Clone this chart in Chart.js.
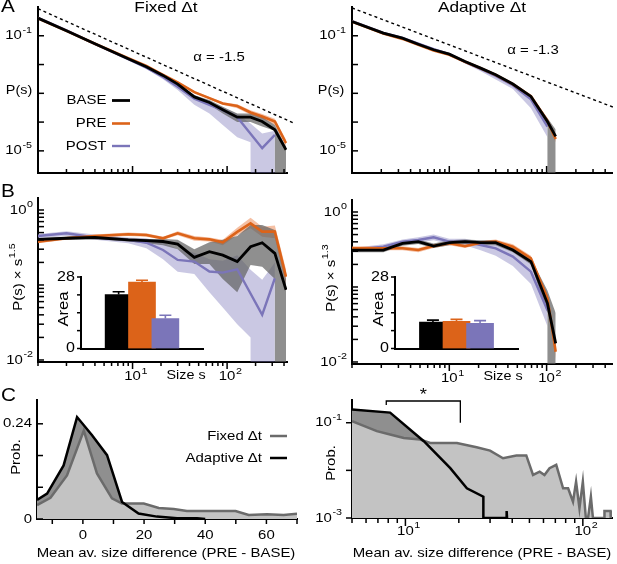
<!DOCTYPE html>
<html>
<head>
<meta charset="utf-8">
<title>Avalanche size distributions, fixed vs adaptive time bins</title>
<script src="https://cdn.jsdelivr.net/npm/chart.js@4.4.1/dist/chart.umd.min.js"></script>
<style>
  body { margin: 0; background: #fff; }
  #fig { position: relative; width: 617px; height: 564px; }
  #fig canvas { position: absolute; left: 0; top: 0; }
</style>
</head>
<body>
<div id="fig">
  <canvas id="aFixed" width="617" height="564"></canvas>
  <canvas id="aAdapt" width="617" height="564"></canvas>
  <canvas id="bFixed" width="617" height="564"></canvas>
  <canvas id="bAdapt" width="617" height="564"></canvas>
  <canvas id="insetFixed" width="617" height="564"></canvas>
  <canvas id="insetAdapt" width="617" height="564"></canvas>
  <canvas id="cFixed" width="617" height="564"></canvas>
  <canvas id="cAdapt" width="617" height="564"></canvas>
</div>
<script>
// ---- data ----

// avalanche size bins
const sizesFixed = [1, 2, 4, 9, 14, 21, 30, 45, 65, 90, 128, 177, 235, 320, 420];
const sizesAdapt = [1, 2.1, 3.3, 4.8, 6.9, 10, 14.5, 21, 30, 45, 69, 102, 124];

// A, fixed dt: P(s) with shaded spread
// 0 = at the axis floor, [v, 0] = reaches v then falls straight to the floor
const pBaseFixed   = [0.41, 0.15, 0.053, 0.0158, 0.0084, 0.0042, 0.0021, 0.00075, 0.00048, 0.00027, 0.000148, 0.000148, 0.000105, 0.000054, 0.0000108];
const pBaseFixedLo = [0.39, 0.14, 0.05, 0.015, 0.008, 0.0039, 0.0019, 0.00066, 0.0004, 0.0002, 0.0001, 0.0001, 0.00007, [0.00005, 0], 0];
const pBaseFixedHi = [0.43, 0.16, 0.056, 0.0166, 0.0089, 0.0045, 0.0023, 0.00085, 0.00058, 0.00034, 0.0002, 0.0002, 0.00015, 0.00008, 0.000014];
const pPreFixed    = [0.40, 0.148, 0.053, 0.0165, 0.009, 0.0044, 0.0024, 0.0011, 0.00068, 0.00044, 0.00036, 0.000215, 0.000156, 0.000105, 0.0000186];
const pPreFixedLo  = [0.38, 0.14, 0.05, 0.0156, 0.0085, 0.0041, 0.0022, 0.001, 0.00062, 0.0004, 0.0003, 0.00018, 0.00013, 0.00008, 0.000015];
const pPreFixedHi  = [0.42, 0.156, 0.056, 0.0175, 0.0095, 0.0047, 0.0026, 0.0012, 0.00075, 0.00049, 0.00042, 0.00026, 0.00019, 0.00013, 0.000024];
const pPostFixed   = [0.42, 0.155, 0.052, 0.0155, 0.0078, 0.0037, 0.0017, 0.00065, 0.0004, 0.00026, 0.000148, null, 0.0000124, 0.000036, null];
const pPostFixedLo = [0.4, 0.147, 0.049, 0.0145, 0.007, 0.0031, 0.0013, 0.0004, 0.0002, 0.00008, 0.00003, [0.00002, 0], 0, 0, null];
const pPostFixedHi = [0.44, 0.163, 0.055, 0.0165, 0.0086, 0.0043, 0.002, 0.0009, 0.0005, 0.00033, 0.00019, 0.00009, 0.00004, 0.00005, null];

// A, adaptive dt
const pBaseAdapt   = [0.314, 0.124, 0.083, 0.051, 0.0326, 0.023, 0.0128, 0.0075, 0.0044, 0.0021, 0.00078, 0.000105, 0.000032];
const pBaseAdaptLo = [0.295, 0.116, 0.078, 0.048, 0.0305, 0.0215, 0.012, 0.007, 0.0041, 0.00195, 0.00072, [0.00008, 0], 0];
const pBaseAdaptHi = [0.335, 0.133, 0.089, 0.055, 0.035, 0.0246, 0.0137, 0.008, 0.0047, 0.00225, 0.00084, 0.00014, 0.000055];
const pPreAdapt    = [0.31, 0.12, 0.078, 0.049, 0.031, 0.022, 0.0125, 0.0074, 0.0044, 0.0021, 0.0008, 0.00011, 0.000026];
const pPreAdaptLo  = [0.295, 0.114, 0.074, 0.0465, 0.0295, 0.021, 0.0119, 0.007, 0.0042, 0.002, 0.00075, 0.00009, 0.00002];
const pPreAdaptHi  = [0.325, 0.126, 0.082, 0.0515, 0.0325, 0.023, 0.0131, 0.0078, 0.0046, 0.0022, 0.00085, 0.00013, 0.00003];
const pPostAdapt   = [0.32, 0.126, 0.084, 0.053, 0.034, 0.023, 0.0124, 0.0071, 0.004, 0.0019, 0.00062, 0.00007, null];
const pPostAdaptLo = [0.3, 0.118, 0.078, 0.049, 0.031, 0.021, 0.0108, 0.0058, 0.003, 0.0014, 0.0003, 0.00003, null];
const pPostAdaptHi = [0.34, 0.134, 0.09, 0.057, 0.037, 0.025, 0.0135, 0.008, 0.0046, 0.0022, 0.00085, 0.00012, null];

// dotted power-law guides (end points)
const guideFixedS = [1, 528];
const guideFixedP = [0.87, 0.000087];
const guideAdaptS = [1, 509];
const guideAdaptP = [0.93, 0.00031];

// B, fixed dt: P(s) x s^1.5
const cBaseFixed   = [0.406, 0.42, 0.43, 0.40, 0.39, 0.38, 0.35, 0.234, 0.278, 0.25, 0.205, 0.324, 0.366, 0.264, 0.086];
const cBaseFixedLo = [0.39, 0.40, 0.41, 0.38, 0.36, 0.34, 0.30, 0.19, 0.19, 0.12, 0.08, 0.185, 0.175, [0.12, 0], 0];
const cBaseFixedHi = [0.42, 0.44, 0.45, 0.42, 0.41, 0.41, 0.40, 0.30, 0.37, 0.40, 0.45, 0.63, 0.63, 0.54, 0.12];
const cPreFixed    = [0.378, 0.42, 0.45, 0.474, 0.464, 0.419, 0.489, 0.42, 0.406, 0.37, 0.51, 0.664, 0.514, 0.514, 0.129];
const cPreFixedLo  = [0.36, 0.40, 0.43, 0.45, 0.44, 0.40, 0.46, 0.39, 0.38, 0.34, 0.46, 0.57, 0.44, 0.42, 0.10];
const cPreFixedHi  = [0.39, 0.44, 0.47, 0.50, 0.49, 0.44, 0.52, 0.45, 0.43, 0.40, 0.58, 0.79, 0.60, 0.62, 0.16];
const cPostFixed   = [0.45, 0.489, 0.43, 0.40, 0.366, 0.293, 0.216, 0.205, 0.151, 0.146, 0.162, null, 0.04, 0.123, null];
const cPostFixedLo = [0.42, 0.45, 0.40, 0.36, 0.31, 0.22, 0.15, 0.14, 0.08, 0.05, 0.03, [0.02, 0], 0, 0, null];
const cPostFixedHi = [0.48, 0.52, 0.47, 0.43, 0.42, 0.37, 0.30, 0.27, 0.22, 0.21, 0.25, 0.16, 0.117, 0.2, null];

// B, adaptive dt: P(s) x s^1.3
const cBaseAdapt   = [0.311, 0.311, 0.382, 0.402, 0.352, 0.39, 0.402, 0.39, 0.39, 0.311, 0.218, 0.0605, 0.0177];
const cBaseAdaptLo = [0.29, 0.29, 0.355, 0.375, 0.33, 0.36, 0.375, 0.36, 0.36, 0.29, 0.2, [0.045, 0], 0];
const cBaseAdaptHi = [0.33, 0.33, 0.41, 0.43, 0.38, 0.42, 0.43, 0.42, 0.42, 0.34, 0.24, 0.09, 0.045];
const cPreAdapt    = [0.328, 0.328, 0.328, 0.311, 0.352, 0.382, 0.35, 0.39, 0.402, 0.345, 0.241, 0.0707, 0.0137];
const cPreAdaptLo  = [0.31, 0.31, 0.31, 0.29, 0.33, 0.36, 0.33, 0.37, 0.38, 0.32, 0.225, 0.062, 0.011];
const cPreAdaptHi  = [0.35, 0.35, 0.35, 0.33, 0.375, 0.405, 0.37, 0.41, 0.43, 0.37, 0.26, 0.08, 0.017];
const cPostAdapt   = [0.311, 0.345, 0.402, 0.424, 0.46, 0.402, 0.402, 0.363, 0.328, 0.254, 0.16, 0.049, null];
const cPostAdaptLo = [0.29, 0.32, 0.37, 0.39, 0.42, 0.37, 0.36, 0.31, 0.26, 0.19, 0.11, [0.03, 0], null];
const cPostAdaptHi = [0.33, 0.37, 0.43, 0.46, 0.5, 0.44, 0.44, 0.4, 0.37, 0.3, 0.21, 0.065, null];

// insets: area under the compensated curve
const conditions = ['BASE', 'PRE', 'POST'];
const areaFixed = [21.1, 26.0, 11.7];
const areaFixedErr = [1.1, 0.7, 1.3];
const areaAdapt = [10.3, 10.6, 9.9];
const areaAdaptErr = [0.8, 0.8, 1.0];

// C, left: distribution of mean size difference (PRE - BASE), linear
const diffFixedL = [-15, -10.6, -5.2, 0.3, 4.6, 9.5, 12.8, 19.9, 24.8, 29.7, 34, 43.9, 49.9, 54.2, 60.2, 65.6, 70];
const probFixedL = [0.035, 0.0535, 0.11, 0.223, 0.115, 0.052, 0.039, 0.039, 0.028, 0.025, 0.02, 0.02, 0.02, 0.01, 0.012, 0.01, 0.013];
const diffAdaptL = [-15, -11.7, -6.3, -1.9, 3, 7.9, 12.8, 18.2, 24.2, 30.8, 37.3, 40];
const probAdaptL = [0.048, 0.064, 0.135, 0.257, 0.211, 0.161, 0.043, 0.014, 0.006, 0.002, 0.002, 0];

// C, right: same on log-log axes (0 = falls to the floor)
const diffFixedR = [5, 6.9, 8.2, 9.8, 12.1, 13.8, 19.5, 25.2, 30, 35.5, 42.2, 48, 52.4, 57.1, 60.8, 64.9, 70.8, 77.4, 82.6, 88, 91.6, 95.7, 100, 104, 107, 111, 114, 132, 132.4, 143.3, 143.6];
const probFixedR = [0.108, 0.0666, 0.0566, 0.048, 0.0443, 0.0377, 0.0377, 0.0305, 0.026, 0.018, 0.0206, 0.0206, 0.008, 0.0094, 0.008, 0.0111, 0.0131, 0.0042, 0.0042, 0.0022, 0.0058, 0.0016, 0.0058, 0, 0, 0.0028, 0, 0, 0.0014, 0.0014, 0];
const diffAdaptR = [5, 8.2, 12.7, 17.9, 22.2, 27.5, 27.5, 37, 37.2, 37.4];
const probAdaptR = [0.19, 0.163, 0.041, 0.0111, 0.0042, 0.0028, 0, 0, 0.0014, 0];
const starBracket = [7.8, 20.4];

// ---- styling ----
const W = 617, H = 564;
const FONT = '"Liberation Sans", Arial, Helvetica, sans-serif';
const STRETCH = 1.15;   // lettering in the figure is wide
const BLACK = '#000000', ORANGE = '#dc6319', PURPLE = '#7b75b9';
const GRAY_BAND = 'rgba(95,95,95,0.7)';
const ORANGE_BAND = 'rgba(236,140,90,0.55)';
const PURPLE_BAND = 'rgba(123,117,185,0.4)';
const C_LIGHT = '#c3c3c3', C_DARK = '#8f8f8f', C_LINE = '#6b6b6b';

function pts(xs, ys, floor) {
  const out = [];
  xs.forEach((x, i) => {
    const v = ys[i];
    if (Array.isArray(v)) {
      out.push({ x, y: v[0] });
      out.push({ x, y: floor });
    } else {
      out.push({ x, y: v === 0 ? floor : v });
    }
  });
  return out;
}

function line(xs, ys, floor, color, width, order) {
  return { data: pts(xs, ys, floor), borderColor: color, borderWidth: width, fill: false, spanGaps: true, order };
}

function band(xs, lo, hi, floor, color, order) {
  return [
    { data: pts(xs, hi, floor), borderColor: 'transparent', backgroundColor: color, fill: '+1', order },
    { data: pts(xs, lo, floor), borderColor: 'transparent', fill: false, order }
  ];
}

function distSets(xs, floor, s, guide) {
  const sets = [
    ...band(xs, s.postLo, s.postHi, floor, PURPLE_BAND, 9),
    ...band(xs, s.preLo, s.preHi, floor, ORANGE_BAND, 8),
    ...band(xs, s.baseLo, s.baseHi, floor, GRAY_BAND, 7),
    line(xs, s.post, floor, PURPLE, 2.4, 3),
    line(xs, s.pre, floor, ORANGE, 2.6, 2),
    line(xs, s.base, floor, BLACK, 2.8, 1)
  ];
  if (guide) {
    sets.push({ data: pts(guide[0], guide[1]), borderColor: BLACK, borderWidth: 1.4,
      borderDash: [3, 3], fill: false, clip: false, order: 0 });
  }
  return sets;
}

function axis(type, min, max, side) {
  return {
    type, min, max, bounds: 'data', position: side, z: 1,
    ticks: { display: false },
    grid: { display: false, drawTicks: false },
    border: { display: true, color: '#000', width: 2 },
    afterFit(s) { if (side === 'left') s.width = 0; else s.height = 0; }
  };
}

function logTicks(a, b) {
  const t = [];
  for (let d = a; d < b; d++) for (let k = 1; k < 10; k++) t.push(k * Math.pow(10, d));
  t.push(Math.pow(10, b));
  return t;
}

function text(ctx, str, x, y, o) {
  o = o || {};
  const size = o.size || 13;
  ctx.save();
  ctx.translate(x, y);
  if (o.rot) ctx.rotate(o.rot);
  ctx.scale(STRETCH, 1);
  ctx.fillStyle = '#000';
  ctx.textBaseline = 'middle';
  ctx.textAlign = 'left';
  ctx.font = size + 'px ' + FONT;
  const w = ctx.measureText(str).width;
  const ss = size * 0.72;
  let sw = 0;
  if (o.sup) {
    ctx.font = ss + 'px ' + FONT;
    sw = ctx.measureText(o.sup).width + 0.5;
    ctx.font = size + 'px ' + FONT;
  }
  const tot = w + sw;
  let x0 = -tot / 2;
  if (o.align === 'right') x0 = -tot;
  if (o.align === 'left') x0 = 0;
  if (o.align === 'base') x0 = -w / 2;
  ctx.fillText(str, x0, 0);
  if (o.sup) {
    ctx.font = ss + 'px ' + FONT;
    ctx.fillText(o.sup, x0 + w + 0.5, -size * 0.42);
  }
  ctx.restore();
}

// ticks, tick labels, titles, legends
function decoration(spec) {
  return {
    id: 'decoration',
    afterDraw(chart) {
      const ctx = chart.ctx, a = chart.chartArea;
      ctx.save();
      (spec.axes || []).forEach(ax => {
        const sc = chart.scales[ax.id];
        const vert = ax.id === 'y';
        ctx.strokeStyle = '#000';
        ctx.lineWidth = 1.5;
        (ax.ticks || []).forEach(v => {
          const p = sc.getPixelForValue(v);
          const len = ax.major && ax.major.includes(v) ? ax.majorLen : ax.len;
          ctx.beginPath();
          if (vert) { ctx.moveTo(a.left, p); ctx.lineTo(a.left + ax.dir * len, p); }
          else { ctx.moveTo(p, a.bottom); ctx.lineTo(p, a.bottom - ax.dir * len); }
          ctx.stroke();
        });
        (ax.labels || []).forEach(l => {
          const p = sc.getPixelForValue(l.v);
          if (vert) text(ctx, l.t, a.left - ax.gap, p, { align: 'right', sup: l.sup, size: ax.size });
          else text(ctx, l.t, p, a.bottom + ax.gap, { align: l.sup ? 'base' : 'center', sup: l.sup, size: ax.size });
        });
      });
      (spec.lines || []).forEach(l => {
        ctx.strokeStyle = l.color;
        ctx.lineWidth = l.width;
        ctx.beginPath();
        ctx.moveTo(l.x1, l.y);
        ctx.lineTo(l.x2, l.y);
        ctx.stroke();
      });
      (spec.texts || []).forEach(t => text(ctx, t.t, t.x, t.y, t));
      if (spec.extra) spec.extra(chart, ctx);
      ctx.restore();
    }
  };
}

function figure(id, box, type, scales, datasets, spec) {
  return new Chart(document.getElementById(id), {
    type,
    data: { datasets },
    options: {
      responsive: false,
      animation: false,
      events: [],
      layout: { padding: { left: box[0], top: box[1], right: W - box[2], bottom: H - box[3] } },
      scales,
      plugins: { legend: { display: false }, tooltip: { enabled: false } },
      elements: { point: { radius: 0 }, line: { tension: 0 } }
    },
    plugins: [decoration(spec)]
  });
}

const sizeTicks = [...logTicks(0, 2), 200, 300, 400];
const expLabel = (v, t, sup) => ({ v, t, sup });

// ---- A: P(s) ----
const A_FLOOR = 1.7e-6;
const aYAxis = { id: 'y', ticks: [1e-1, 1e-2, 1e-3, 1e-4, 1e-5], len: 6, dir: 1, gap: 6, size: 13,
  labels: [expLabel(1e-1, '10', '-1'), expLabel(1e-5, '10', '-5')] };
const aXAxis = { id: 'x', ticks: sizeTicks, major: [10, 100], len: 4, majorLen: 7, dir: 1 };

figure('aFixed', [38, 7, 287, 173], 'line',
  { x: axis('logarithmic', 1, 430, 'bottom'), y: axis('logarithmic', A_FLOOR, 1, 'left') },
  distSets(sizesFixed, A_FLOOR, {
    base: pBaseFixed, baseLo: pBaseFixedLo, baseHi: pBaseFixedHi,
    pre: pPreFixed, preLo: pPreFixedLo, preHi: pPreFixedHi,
    post: pPostFixed, postLo: pPostFixedLo, postHi: pPostFixedHi
  }, [guideFixedS, guideFixedP]),
  {
    axes: [aYAxis, aXAxis],
    texts: [
      { t: 'A', x: 1, y: 7, size: 18, align: 'left' },
      { t: 'Fixed \u0394t', x: 166, y: 8, size: 15 },
      { t: '\u03b1 = -1.5', x: 219, y: 57 },
      { t: 'P(s)', x: 19, y: 91, size: 12.5 },
      { t: 'BASE', x: 106.5, y: 100.5, align: 'right' },
      { t: 'PRE', x: 106.5, y: 123.5, align: 'right' },
      { t: 'POST', x: 106.5, y: 146, align: 'right' }
    ],
    lines: [
      { x1: 112, x2: 130, y: 100.5, color: BLACK, width: 2.8 },
      { x1: 112, x2: 130, y: 123.5, color: ORANGE, width: 2.6 },
      { x1: 112, x2: 130, y: 146, color: PURPLE, width: 2.4 }
    ]
  });

figure('aAdapt', [352, 7, 612, 173], 'line',
  { x: axis('logarithmic', 1, 470, 'bottom'), y: axis('logarithmic', A_FLOOR, 1, 'left') },
  distSets(sizesAdapt, A_FLOOR, {
    base: pBaseAdapt, baseLo: pBaseAdaptLo, baseHi: pBaseAdaptHi,
    pre: pPreAdapt, preLo: pPreAdaptLo, preHi: pPreAdaptHi,
    post: pPostAdapt, postLo: pPostAdaptLo, postHi: pPostAdaptHi
  }, [guideAdaptS, guideAdaptP]),
  {
    axes: [aYAxis, aXAxis],
    texts: [
      { t: 'Adaptive \u0394t', x: 482, y: 8, size: 15 },
      { t: '\u03b1 = -1.3', x: 533, y: 50 },
      { t: 'P(s)', x: 331, y: 91, size: 12.5 }
    ]
  });

// ---- B: compensated P(s) ----
const B_FLOOR = 0.0094;
const bYAxis = { id: 'y', ticks: logTicks(-2, 0), len: 6, dir: 1, gap: 5, size: 13,
  labels: [expLabel(1, '10', '0'), expLabel(0.01, '10', '-2')] };
const bXAxis = { id: 'x', ticks: sizeTicks, major: [10, 100], len: 4, majorLen: 7, dir: -1, gap: 14.5, size: 13,
  labels: [expLabel(10, '10', '1'), expLabel(100, '10', '2')] };

figure('bFixed', [38, 198, 287, 362], 'line',
  { x: axis('logarithmic', 1, 430, 'bottom'), y: axis('logarithmic', B_FLOOR, 1.445, 'left') },
  distSets(sizesFixed, B_FLOOR, {
    base: cBaseFixed, baseLo: cBaseFixedLo, baseHi: cBaseFixedHi,
    pre: cPreFixed, preLo: cPreFixedLo, preHi: cPreFixedHi,
    post: cPostFixed, postLo: cPostFixedLo, postHi: cPostFixedHi
  }),
  {
    axes: [bYAxis, bXAxis],
    texts: [
      { t: 'B', x: 1, y: 192, size: 18, align: 'left' },
      { t: 'P(s) \u00d7 s', sup: '1.5', x: 18, y: 277, rot: -Math.PI / 2 },
      { t: 'Size s', x: 186, y: 376, size: 12.5 }
    ]
  });

figure('bAdapt', [352, 200, 612, 364], 'line',
  { x: axis('logarithmic', 1, 470, 'bottom'), y: axis('logarithmic', B_FLOOR, 1.445, 'left') },
  distSets(sizesAdapt, B_FLOOR, {
    base: cBaseAdapt, baseLo: cBaseAdaptLo, baseHi: cBaseAdaptHi,
    pre: cPreAdapt, preLo: cPreAdaptLo, preHi: cPreAdaptHi,
    post: cPostAdapt, postLo: cPostAdaptLo, postHi: cPostAdaptHi
  }),
  {
    axes: [bYAxis, bXAxis],
    texts: [
      { t: 'P(s) \u00d7 s', sup: '1.3', x: 331, y: 278, rot: -Math.PI / 2 },
      { t: 'Size s', x: 503, y: 377, size: 12.5 }
    ]
  });

// ---- insets: bar charts of area ----
const barColors = [BLACK, ORANGE, PURPLE];
function inset(id, box, values, errs, areaX) {
  figure(id, box, 'bar',
    { x: axis('linear', 0.26, 3.74, 'bottom'), y: axis('linear', 0, 28, 'left') },
    [{ data: conditions.map((c, i) => ({ x: i + 1, y: values[i] })), backgroundColor: barColors, barThickness: 27 }],
    {
      axes: [{ id: 'y', ticks: [0, 7, 14, 21, 28], len: 4, dir: -1, gap: 6, size: 14,
        labels: [{ v: 28, t: '28' }, { v: 0, t: '0' }] }],
      texts: [{ t: 'Area', x: areaX, y: 309, size: 14.5, rot: -Math.PI / 2 }],
      extra(chart, ctx) {
        const ys = chart.scales.y;
        chart.getDatasetMeta(0).data.forEach((bar, i) => {
          const top = ys.getPixelForValue(values[i] + errs[i]);
          ctx.strokeStyle = barColors[i];
          ctx.lineWidth = 1.6;
          ctx.beginPath();
          ctx.moveTo(bar.x, bar.y);
          ctx.lineTo(bar.x, top);
          ctx.moveTo(bar.x - 6, top);
          ctx.lineTo(bar.x + 6, top);
          ctx.stroke();
        });
      }
    });
}
inset('insetFixed', [81, 277, 203, 348.5], areaFixed, areaFixedErr, 64);
inset('insetAdapt', [395, 277, 518, 348.5], areaAdapt, areaAdaptErr, 379);

// ---- C: size difference distributions ----
function diffSets(fx, fy, ax, ay, floor) {
  return [
    { data: pts(ax, ay, floor), borderColor: BLACK, borderWidth: 2.5, fill: false, order: 0 },
    { data: pts(fx, fy, floor), borderColor: C_LINE, borderWidth: 2.5, fill: false, order: 1 },
    { data: pts(fx, fy, floor), borderColor: 'transparent', backgroundColor: C_LIGHT, fill: 'start', order: 2 },
    { data: pts(ax, ay, floor), borderColor: 'transparent', backgroundColor: C_DARK, fill: 'start', order: 3 }
  ];
}

figure('cFixed', [37, 400, 297, 519], 'line',
  { x: axis('linear', -15, 70, 'bottom'), y: axis('linear', 0, 0.3, 'left') },
  diffSets(diffFixedL, probFixedL, diffAdaptL, probAdaptL, 0),
  {
    axes: [
      { id: 'y', ticks: [0, 0.08, 0.16, 0.24], len: 6, dir: 1, gap: 5, size: 13,
        labels: [{ v: 0.24, t: '0.24' }, { v: 0, t: '0' }] },
      { id: 'x', ticks: [-10, 0, 10, 20, 30, 40, 50, 60, 70], len: 5, dir: -1, gap: 16.5, size: 13,
        labels: [{ v: 0, t: '0' }, { v: 20, t: '20' }, { v: 40, t: '40' }, { v: 60, t: '60' }] }
    ],
    texts: [
      { t: 'C', x: 1, y: 396, size: 18, align: 'left' },
      { t: 'Prob.', x: 16, y: 457, rot: -Math.PI / 2 },
      { t: 'Fixed \u0394t', x: 262, y: 436, align: 'right' },
      { t: 'Adaptive \u0394t', x: 262, y: 458, align: 'right' },
      { t: 'Mean av. size difference (PRE - BASE)', x: 166, y: 553 }
    ],
    lines: [
      { x1: 270, x2: 287, y: 436, color: C_LINE, width: 2.5 },
      { x1: 270, x2: 287, y: 458, color: BLACK, width: 2.5 }
    ]
  });

const C_FLOOR = 0.001;
figure('cAdapt', [352, 400, 612, 518], 'line',
  { x: axis('logarithmic', 5, 146, 'bottom'), y: axis('logarithmic', C_FLOOR, 0.3, 'left') },
  diffSets(diffFixedR, probFixedR, diffAdaptR, probAdaptR, C_FLOOR),
  {
    axes: [
      { id: 'y', ticks: [0.001, 0.01, 0.1], len: 6, dir: -1, gap: 10, size: 13,
        labels: [expLabel(0.1, '10', '-1'), expLabel(0.001, '10', '-3')] },
      { id: 'x', ticks: [5, 6, 7, 8, 9, ...logTicks(1, 2)], major: [10, 100], len: 5, majorLen: 8, dir: -1, gap: 13, size: 13,
        labels: [expLabel(10, '10', '1'), expLabel(100, '10', '2')] }
    ],
    texts: [
      { t: 'Prob.', x: 331, y: 463, rot: -Math.PI / 2 },
      { t: 'Mean av. size difference (PRE - BASE)', x: 482, y: 553 }
    ],
    extra(chart, ctx) {
      const xs = chart.scales.x, ys = chart.scales.y;
      const x1 = xs.getPixelForValue(starBracket[0]), x2 = xs.getPixelForValue(starBracket[1]);
      const yTop = chart.chartArea.top + 1;
      ctx.strokeStyle = '#000';
      ctx.lineWidth = 1.3;
      ctx.beginPath();
      ctx.moveTo(x1, yTop + 4);
      ctx.lineTo(x1, yTop);
      ctx.lineTo(x2, yTop);
      ctx.lineTo(x2, ys.getPixelForValue(0.1));
      ctx.stroke();
      text(ctx, '*', (x1 + x2) / 2, yTop - 5, { size: 16 });
    }
  });
</script>
</body>
</html>
